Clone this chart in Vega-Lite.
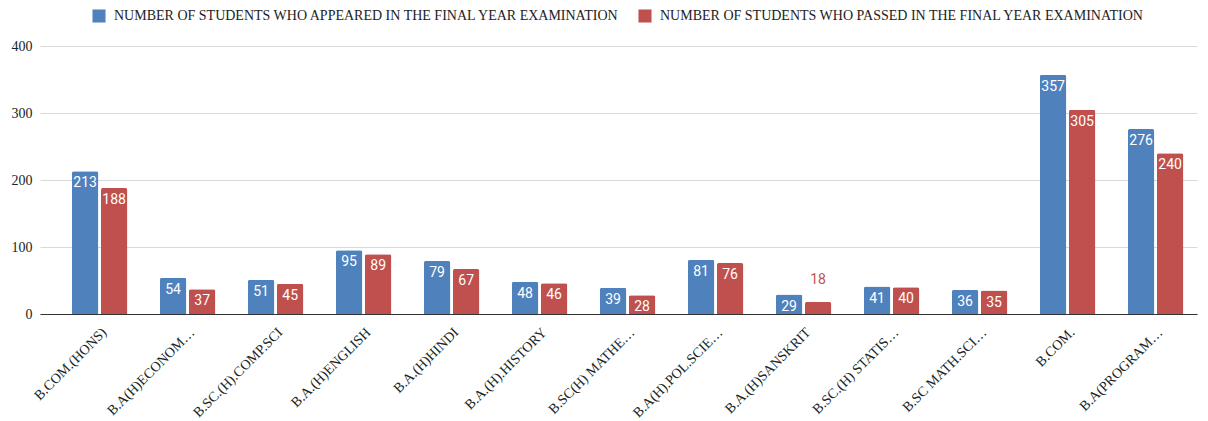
{
  "$schema": "https://vega.github.io/schema/vega-lite/v6.json",
  "autosize": {"type": "none"},
  "padding": {"left": 40, "top": 46, "right": 11, "bottom": 107},
  "width": 1157,
  "height": 268,
  "background": "white",
  "data": {
    "values": [
      {"course": "B.COM.(HONS)", "series": "NUMBER OF STUDENTS WHO APPEARED IN THE FINAL YEAR EXAMINATION", "value": 213},
      {"course": "B.COM.(HONS)", "series": "NUMBER OF STUDENTS WHO PASSED IN THE FINAL YEAR EXAMINATION", "value": 188},
      {"course": "B.A(H)ECONOM…", "series": "NUMBER OF STUDENTS WHO APPEARED IN THE FINAL YEAR EXAMINATION", "value": 54},
      {"course": "B.A(H)ECONOM…", "series": "NUMBER OF STUDENTS WHO PASSED IN THE FINAL YEAR EXAMINATION", "value": 37},
      {"course": "B.SC.(H).COMP.SCI", "series": "NUMBER OF STUDENTS WHO APPEARED IN THE FINAL YEAR EXAMINATION", "value": 51},
      {"course": "B.SC.(H).COMP.SCI", "series": "NUMBER OF STUDENTS WHO PASSED IN THE FINAL YEAR EXAMINATION", "value": 45},
      {"course": "B.A.(H)ENGLISH", "series": "NUMBER OF STUDENTS WHO APPEARED IN THE FINAL YEAR EXAMINATION", "value": 95},
      {"course": "B.A.(H)ENGLISH", "series": "NUMBER OF STUDENTS WHO PASSED IN THE FINAL YEAR EXAMINATION", "value": 89},
      {"course": "B.A.(H)HINDI", "series": "NUMBER OF STUDENTS WHO APPEARED IN THE FINAL YEAR EXAMINATION", "value": 79},
      {"course": "B.A.(H)HINDI", "series": "NUMBER OF STUDENTS WHO PASSED IN THE FINAL YEAR EXAMINATION", "value": 67},
      {"course": "B.A.(H).HISTORY", "series": "NUMBER OF STUDENTS WHO APPEARED IN THE FINAL YEAR EXAMINATION", "value": 48},
      {"course": "B.A.(H).HISTORY", "series": "NUMBER OF STUDENTS WHO PASSED IN THE FINAL YEAR EXAMINATION", "value": 46},
      {"course": "B.SC(H) MATHE…", "series": "NUMBER OF STUDENTS WHO APPEARED IN THE FINAL YEAR EXAMINATION", "value": 39},
      {"course": "B.SC(H) MATHE…", "series": "NUMBER OF STUDENTS WHO PASSED IN THE FINAL YEAR EXAMINATION", "value": 28},
      {"course": "B.A(H).POL.SCIE…", "series": "NUMBER OF STUDENTS WHO APPEARED IN THE FINAL YEAR EXAMINATION", "value": 81},
      {"course": "B.A(H).POL.SCIE…", "series": "NUMBER OF STUDENTS WHO PASSED IN THE FINAL YEAR EXAMINATION", "value": 76},
      {"course": "B.A.(H)SANSKRIT", "series": "NUMBER OF STUDENTS WHO APPEARED IN THE FINAL YEAR EXAMINATION", "value": 29},
      {"course": "B.A.(H)SANSKRIT", "series": "NUMBER OF STUDENTS WHO PASSED IN THE FINAL YEAR EXAMINATION", "value": 18},
      {"course": "B.SC.(H) STATIS…", "series": "NUMBER OF STUDENTS WHO APPEARED IN THE FINAL YEAR EXAMINATION", "value": 41},
      {"course": "B.SC.(H) STATIS…", "series": "NUMBER OF STUDENTS WHO PASSED IN THE FINAL YEAR EXAMINATION", "value": 40},
      {"course": "B.SC MATH.SCI…", "series": "NUMBER OF STUDENTS WHO APPEARED IN THE FINAL YEAR EXAMINATION", "value": 36},
      {"course": "B.SC MATH.SCI…", "series": "NUMBER OF STUDENTS WHO PASSED IN THE FINAL YEAR EXAMINATION", "value": 35},
      {"course": "B.COM.", "series": "NUMBER OF STUDENTS WHO APPEARED IN THE FINAL YEAR EXAMINATION", "value": 357},
      {"course": "B.COM.", "series": "NUMBER OF STUDENTS WHO PASSED IN THE FINAL YEAR EXAMINATION", "value": 305},
      {"course": "B.A(PROGRAM…", "series": "NUMBER OF STUDENTS WHO APPEARED IN THE FINAL YEAR EXAMINATION", "value": 276},
      {"course": "B.A(PROGRAM…", "series": "NUMBER OF STUDENTS WHO PASSED IN THE FINAL YEAR EXAMINATION", "value": 240}
    ]
  },
  "encoding": {
    "x": {
      "field": "course", "type": "nominal", "sort": null, "title": null,
      "scale": {"paddingInner": 0.37, "paddingOuter": 0.259, "align": 0.7},
      "axis": {
        "labelAngle": -45, "labelFont": "Liberation Serif", "labelFontSize": 14,
        "labelColor": "#222222", "ticks": false, "labelPadding": 11,
        "domainColor": "#333333", "domainWidth": 1, "grid": false, "labelLimit": 200
      }
    },
    "xOffset": {"field": "series", "type": "nominal", "scale": {"paddingInner": 0.09}},
    "y": {
      "field": "value", "type": "quantitative", "title": null,
      "scale": {"domain": [0, 400], "nice": false},
      "axis": {
        "values": [0, 100, 200, 300, 400], "labelFont": "Liberation Serif", "labelFontSize": 14,
        "labelColor": "#222222", "domain": false, "ticks": false, "labelPadding": 8,
        "gridColor": "#d9d9d9", "gridWidth": 1
      }
    }
  },
  "layer": [
    {
      "mark": {"type": "bar", "cornerRadiusTopLeft": 2, "cornerRadiusTopRight": 2},
      "encoding": {
        "color": {
          "field": "series", "type": "nominal",
          "scale": {"range": ["#4f81bd", "#c0504d"]},
          "legend": {
            "title": null, "orient": "none", "direction": "horizontal",
            "legendX": 52, "legendY": -37,
            "symbolType": "square", "symbolSize": 170, "symbolStrokeWidth": 0,
            "labelFont": "Liberation Serif", "labelFontSize": 14, "labelColor": "#222222",
            "labelLimit": 600, "columnPadding": 18, "labelOffset": 8
          }
        }
      }
    },
    {
      "transform": [{"filter": "datum.value >= 25"}],
      "mark": {"type": "text", "baseline": "middle", "dy": 12, "color": "white", "font": "Roboto", "fontSize": 14},
      "encoding": {"text": {"field": "value", "type": "quantitative"}}
    },
    {
      "transform": [{"filter": "datum.value < 25"}],
      "mark": {"type": "text", "baseline": "middle", "dy": -22, "color": "#c0504d", "font": "Roboto", "fontSize": 14},
      "encoding": {"text": {"field": "value", "type": "quantitative"}}
    }
  ],
  "config": {"view": {"stroke": null}}
}
